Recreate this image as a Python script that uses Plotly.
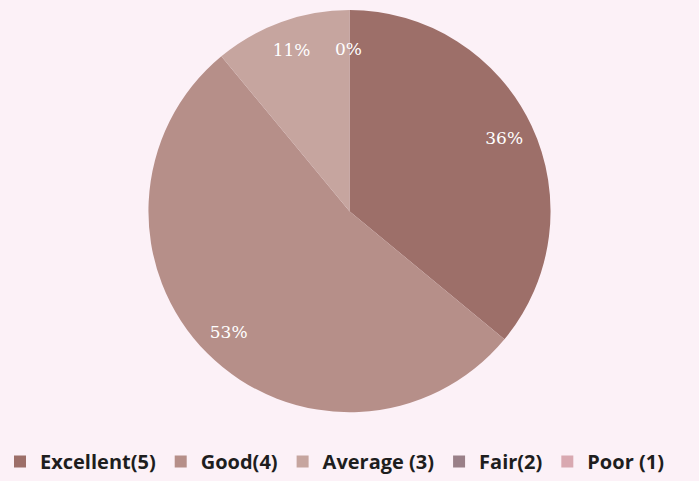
import plotly.graph_objects as go

categories = ["Excellent(5)", "Good(4)", "Average (3)", "Fair(2)", "Poor (1)"]
values = [36, 53, 11, 0, 0]
slice_labels = ["36%", "53%", "11%", "0%", ""]
colors = ["#9d6f69", "#b68f89", "#c6a59f", "#9a8088", "#d9a9b1"]

dom = dict(x=[0.2, 0.8], y=[0.143, 0.979])

fig = go.Figure()
# filled pie (colors + legend)
fig.add_trace(go.Pie(
    labels=categories,
    values=values,
    textinfo="none",
    marker=dict(colors=colors, line=dict(width=0)),
    sort=False,
    direction="clockwise",
    rotation=0,
    domain=dom,
    showlegend=True,
))
# transparent ring carrying the percentage labels near the rim
fig.add_trace(go.Pie(
    labels=categories,
    values=values,
    text=slice_labels,
    textinfo="text",
    textposition="inside",
    insidetextorientation="horizontal",
    insidetextfont=dict(color="white", size=17, family="DejaVu Serif"),
    marker=dict(colors=["rgba(0,0,0,0)"] * len(categories), line=dict(width=0)),
    hole=0.7,
    sort=False,
    direction="clockwise",
    rotation=0,
    domain=dom,
    showlegend=False,
    hoverinfo="skip",
))

fig.add_annotation(
    text="0%", x=0.498, y=0.923, xref="paper", yref="paper",
    showarrow=False, font=dict(color="white", size=17, family="DejaVu Serif"),
)

fig.update_layout(
    width=699, height=481,
    paper_bgcolor="#fcf1f7",
    plot_bgcolor="#fcf1f7",
    margin=dict(l=0, r=0, t=0, b=0),
    legend=dict(
        orientation="h", x=0, y=0.0, xanchor="left", yanchor="bottom",
        font=dict(size=20, color="#1e1e1e", family="Open Sans", weight="bold"),
        itemwidth=30, tracegroupgap=0,
        bgcolor="rgba(0,0,0,0)",
    ),
)

fig.write_html("out.html", post_script="document.body.style.margin='0';",
               config={"displayModeBar": False})
